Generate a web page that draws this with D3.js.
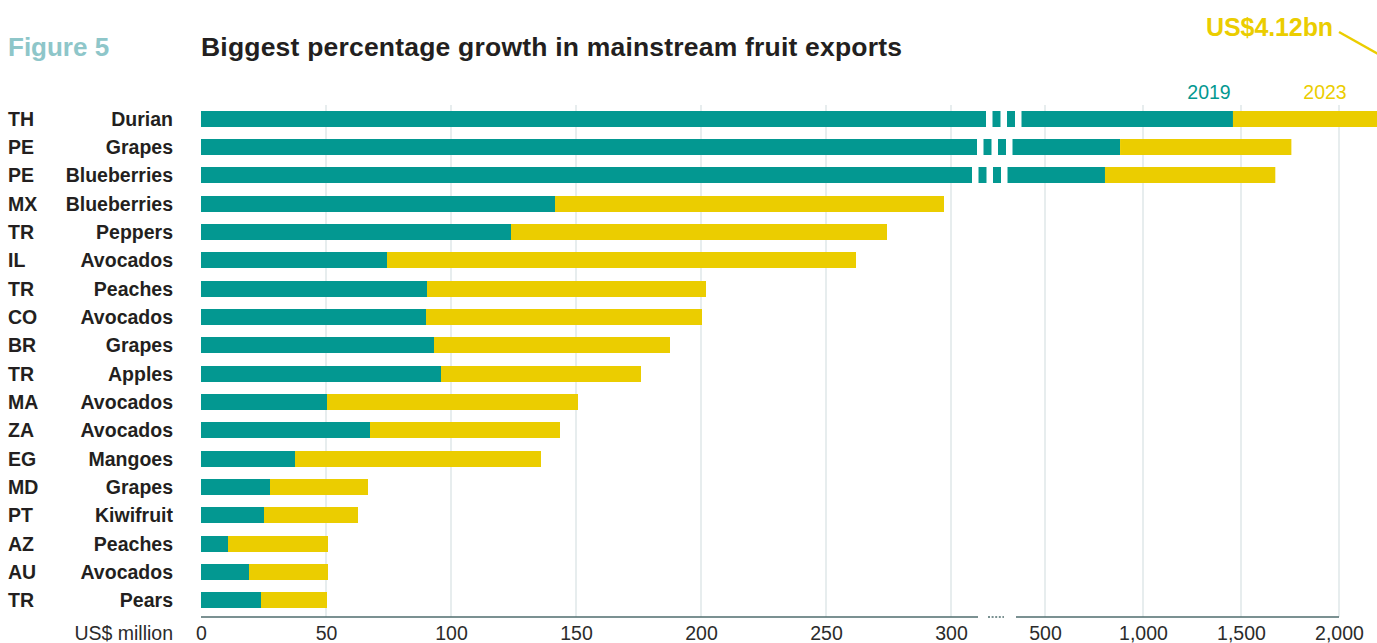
<!DOCTYPE html>
<html>
<head>
<meta charset="utf-8">
<script src="https://cdn.jsdelivr.net/npm/d3@7"></script>
<style>
  html, body { margin: 0; padding: 0; background: #ffffff; }
  svg { display: block; font-family: "Liberation Sans", Arial, Helvetica, sans-serif; }
</style>
</head>
<body>
<svg id="chart" width="1377" height="643"></svg>
<script>
// Exporter country codes and fruits, ordered by growth
const countries = ["TH", "PE", "PE", "MX", "TR", "IL", "TR", "CO", "BR", "TR", "MA", "ZA", "EG", "MD", "PT", "AZ", "AU", "TR"];
const fruits = ["Durian", "Grapes", "Blueberries", "Blueberries", "Peppers", "Avocados", "Peaches", "Avocados", "Grapes", "Apples", "Avocados", "Avocados", "Mangoes", "Grapes", "Kiwifruit", "Peaches", "Avocados", "Pears"];

// Export values, US$ million
const exports2019 = [1459, 883, 806, 141.6, 124, 74.4, 90.4, 90, 93.2, 96, 50.4, 67.6, 37.6, 27.6, 25.2, 10.8, 19.2, 24];
const exports2023 = [4120, 1757, 1675, 297.2, 274.4, 262, 202, 200.4, 187.6, 176, 150.8, 143.6, 136, 66.8, 62.8, 50.8, 50.8, 50.4];

// Axis ticks on each side of the scale break
const ticksLow = [0, 50, 100, 150, 200, 250, 300];
const ticksHigh = [500, 1000, 1500, 2000];

const seriesNames = ["2019", "2023"];
const headline = "US$4.12bn";

const TEAL = "#039891";
const YELLOW = "#ebcd00";
const INK = "#231f20";
const GRID = "#dfe7e8";
const AXIS = "#4f6d6e";

const svg = d3.select("#chart");
const W = 1377;

// Broken scale: linear 0-300, then a compressed 500-2000 segment
const x = d3.scaleLinear()
  .domain([0, 300, 500, 2000])
  .range([201, 951, 1045, 1339]);

const rows = d3.range(countries.length);
const y = d3.scaleBand()
  .domain(rows)
  .range([105, 614])
  .paddingInner(0.435)
  .paddingOuter(0.2)
  .round(false);

const rowTop = i => Math.round(y(i));
const barH = Math.round(y.bandwidth());
const axisY = 617;

// Title block
svg.append("text")
  .attr("x", 8).attr("y", 56)
  .attr("font-size", 26).attr("font-weight", "bold")
  .attr("fill", "#8ec6c9")
  .text("Figure 5");

svg.append("text")
  .attr("x", 201).attr("y", 56)
  .attr("font-size", 26.5).attr("font-weight", "bold")
  .attr("letter-spacing", 0.2)
  .attr("fill", INK)
  .text("Biggest percentage growth in mainstream fruit exports");

// Gridlines
const gridVals = ticksLow.filter(d => d > 0).concat(ticksHigh);
svg.append("g")
  .selectAll("line")
  .data(gridVals)
  .join("line")
  .attr("x1", d => x(d)).attr("x2", d => x(d))
  .attr("y1", 105).attr("y2", axisY)
  .attr("stroke", GRID)
  .attr("stroke-width", 1.5);

// Bars: 2019 value, then the 2023 value stacked on from its end
const clipId = "plot-clip";
svg.append("clipPath").attr("id", clipId)
  .append("rect").attr("x", 0).attr("y", 0).attr("width", W).attr("height", 643);

const bars = svg.append("g").attr("clip-path", `url(#${clipId})`);

bars.selectAll("rect.y2019")
  .data(rows)
  .join("rect")
  .attr("class", "y2019")
  .attr("x", x(0))
  .attr("y", rowTop)
  .attr("width", i => x(exports2019[i]) - x(0))
  .attr("height", barH)
  .attr("fill", TEAL);

bars.selectAll("rect.y2023")
  .data(rows)
  .join("rect")
  .attr("class", "y2023")
  .attr("x", i => x(exports2019[i]))
  .attr("y", rowTop)
  .attr("width", i => x(exports2023[i]) - x(exports2019[i]))
  .attr("height", barH)
  .attr("fill", YELLOW);

// Break marks across bars that run past the 300 mark
const breakOffset = [35, 26, 21];
const brokenRows = rows.filter(i => exports2019[i] > 300);
brokenRows.forEach((i, k) => {
  const start = x(300) + breakOffset[k];
  d3.range(3).forEach(j => {
    bars.append("rect")
      .attr("x", start + j * 14.5)
      .attr("y", rowTop(i) - 1)
      .attr("width", 6.5)
      .attr("height", barH + 2)
      .attr("fill", "#ffffff");
  });
});

// Row labels
const labels = svg.append("g")
  .attr("font-size", 19.5).attr("font-weight", "bold").attr("fill", INK);

labels.selectAll("text.code")
  .data(rows)
  .join("text")
  .attr("class", "code")
  .attr("x", 8)
  .attr("y", i => rowTop(i) + barH / 2 + 7)
  .text(i => countries[i]);

labels.selectAll("text.fruit")
  .data(rows)
  .join("text")
  .attr("class", "fruit")
  .attr("x", 173)
  .attr("y", i => rowTop(i) + barH / 2 + 7)
  .attr("text-anchor", "end")
  .text(i => fruits[i]);

// Axis line, split at the break
const axisG = svg.append("g");
axisG.append("line")
  .attr("x1", x(0)).attr("x2", 978)
  .attr("y1", axisY).attr("y2", axisY)
  .attr("stroke", AXIS).attr("stroke-width", 1.6);
axisG.append("line")
  .attr("x1", 988).attr("x2", 1004)
  .attr("y1", axisY).attr("y2", axisY)
  .attr("stroke", AXIS).attr("stroke-width", 1.3)
  .attr("stroke-dasharray", "2,1.6");
axisG.append("line")
  .attr("x1", 1016).attr("x2", x(2000))
  .attr("y1", axisY).attr("y2", axisY)
  .attr("stroke", AXIS).attr("stroke-width", 1.6);

// Tick labels
const axis = d3.axisBottom(x)
  .tickValues(ticksLow.concat(ticksHigh))
  .tickFormat(d3.format(","))
  .tickSize(0)
  .tickPadding(0);

const tickG = svg.append("g")
  .attr("transform", `translate(0,${axisY})`)
  .call(axis);
tickG.select(".domain").remove();
tickG.selectAll("text")
  .attr("font-family", "\"Liberation Sans\", Arial, Helvetica, sans-serif")
  .attr("font-size", 19.5)
  .attr("fill", "#2b2b2b")
  .attr("dy", null)
  .attr("y", 23);

svg.append("text")
  .attr("x", 173).attr("y", axisY + 23)
  .attr("text-anchor", "end")
  .attr("font-size", 19.5).attr("fill", "#2b2b2b")
  .text("US$ million");

// Series legend
svg.append("text")
  .attr("x", 1209).attr("y", 99)
  .attr("text-anchor", "middle")
  .attr("font-size", 19.5).attr("fill", TEAL)
  .text(seriesNames[0]);
svg.append("text")
  .attr("x", 1325).attr("y", 99)
  .attr("text-anchor", "middle")
  .attr("font-size", 19.5).attr("fill", YELLOW)
  .text(seriesNames[1]);

// Callout for the off-scale 2023 Durian value
svg.append("text")
  .attr("x", 1333).attr("y", 36)
  .attr("text-anchor", "end")
  .attr("font-size", 25).attr("font-weight", "bold")
  .attr("letter-spacing", -0.1)
  .attr("fill", YELLOW)
  .text(headline);
svg.append("line")
  .attr("x1", 1339).attr("y1", 32)
  .attr("x2", 1380).attr("y2", 55)
  .attr("stroke", YELLOW).attr("stroke-width", 2.5);
</script>
</body>
</html>
